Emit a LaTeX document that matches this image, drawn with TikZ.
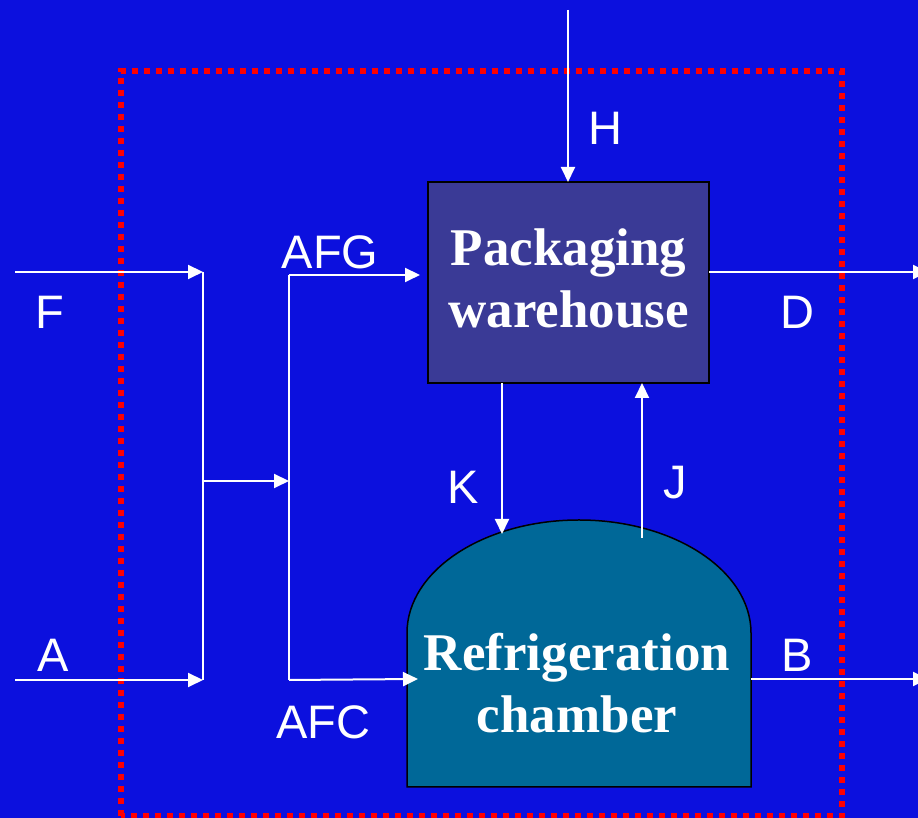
\documentclass[tikz,border=0pt]{standalone}
\usepackage{fontspec}
\setmainfont{Liberation Serif}
\newfontfamily\labelfont{Liberation Sans}
\usetikzlibrary{arrows.meta}
\definecolor{bgblue}{RGB}{12,16,222}
\definecolor{pkgfill}{RGB}{58,58,150}
\definecolor{chfill}{RGB}{0,104,152}
\tikzset{
  flow/.style={draw=white, line width=2pt, -{Triangle[length=15pt,width=14pt]}},
  plain/.style={draw=white, line width=2pt},
  lbl/.style={text=white, font=\labelfont\fontsize{47}{56}\selectfont, inner sep=0pt},
  bigtxt/.style={text=white, font=\bfseries\fontsize{53}{62}\selectfont, align=center, inner sep=0pt},
  pkgbox/.style={draw=black, line width=1.5pt, fill=pkgfill, minimum width=281pt, minimum height=201pt, inner sep=0pt},
  border/.style={draw=red, line width=6pt, dash pattern=on 6pt off 6pt}
}
\begin{document}
\begin{tikzpicture}[x=1pt,y=1pt]
\useasboundingbox (0,0) rectangle (918,818);
\clip (0,0) rectangle (918,818);
\fill[bgblue] (0,0) rectangle (918,818);
% dotted system border
\draw[border] (121,2) -- (121,747) -- (842,747) -- (842,2) -- cycle;
% packaging warehouse
\node[pkgbox] (pw) at (568.5,535.5) {};
\node[bigtxt] (pwt) at (568.5,540) {Packaging\\warehouse};
% refrigeration chamber
\draw[draw=black, line width=1.5pt, fill=chfill] (407,31) -- (407,185)
  arc[start angle=180, end angle=0, x radius=172, y radius=113] -- (751,31) -- cycle;
\node[bigtxt] (rc) at (577,135) {Refrigeration\\chamber};
% coordinates
\coordinate (hin) at (568,808);
\coordinate (hout) at (568,636);
\coordinate (fin) at (15,546);
\coordinate (fj) at (203,546);
\coordinate (ain) at (15,138);
\coordinate (aj) at (203,138);
\coordinate (mj) at (203,337);
\coordinate (mt) at (289,337);
\coordinate (gj) at (289,543);
\coordinate (gt) at (420,543);
\coordinate (cj) at (289,138);
\coordinate (ct) at (418,139);
\coordinate (ds) at (709,546);
\coordinate (de) at (928,546);
\coordinate (bs) at (751,139);
\coordinate (be) at (928,139);
\coordinate (ks) at (502,435);
\coordinate (ke) at (502,284);
\coordinate (js) at (642,280);
\coordinate (je) at (642,435);
% connectors
\draw[flow] (hin) -- (hout);
\draw[flow] (fin) -- (fj);
\draw[flow] (ain) -- (aj);
\draw[plain] (fj) -- (aj);
\draw[flow] (mj) -- (mt);
\draw[plain] (gj) -- (cj);
\draw[flow] (gj) -- (gt);
\draw[flow] (cj) -- (ct);
\draw[flow] (ds) -- (de);
\draw[flow] (bs) -- (be);
\draw[flow] (ks) -- (ke);
\draw[flow] (js) -- (je);
% labels
\node[lbl] (lh) at (605,690) {H};
\node[lbl] (lf) at (50,506) {F};
\node[lbl] (la) at (53,163) {A};
\node[lbl] (lafg) at (330,566) {AFG};
\node[lbl] (lafc) at (323,96) {AFC};
\node[lbl] (ld) at (797,506) {D};
\node[lbl] (lb) at (797,163) {B};
\node[lbl] (lk) at (463,331) {K};
\node[lbl] (lj) at (675,335) {J};
\end{tikzpicture}
\end{document}
